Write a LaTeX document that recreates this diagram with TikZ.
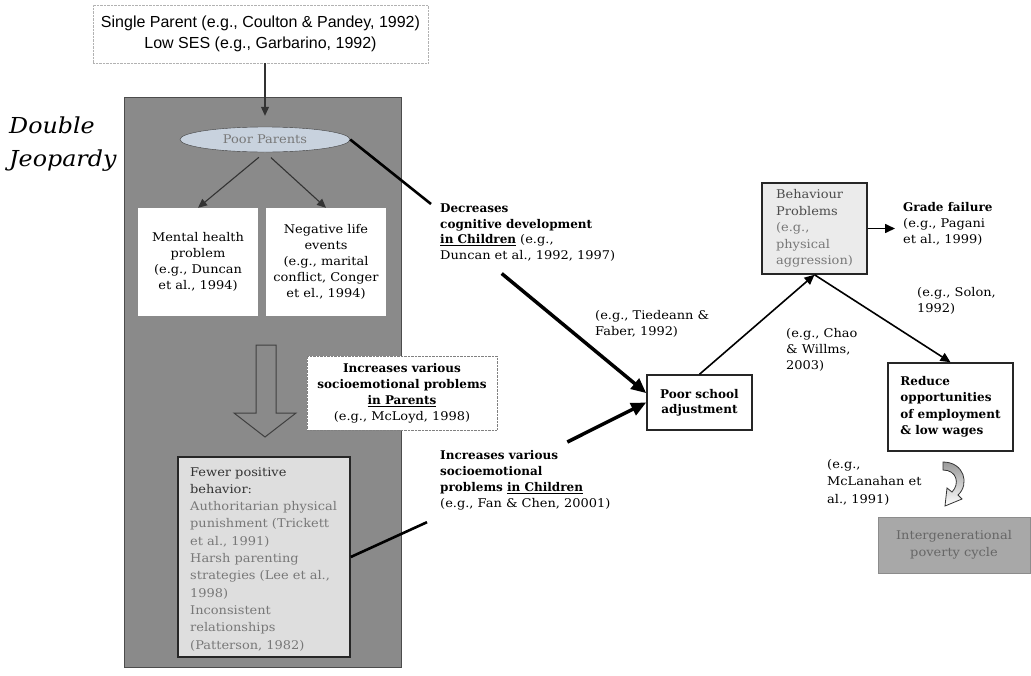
\documentclass[tikz,border=0pt]{standalone}
\usepackage{fontspec}
\setmainfont{DejaVu Serif}[FakeStretch=1.08, BoldFeatures={FakeStretch=1.0}]
\newfontfamily\topfont{Liberation Sans}
\usepackage{tikz}
\usetikzlibrary{arrows.meta}
\usetikzlibrary{shapes.geometric}
\definecolor{panelgray}{RGB}{138,138,138}
\definecolor{ellipsefill}{RGB}{200,210,222}
\definecolor{lightbox}{RGB}{222,222,222}
\definecolor{softtext}{RGB}{120,120,120}
\definecolor{cyclegray}{RGB}{168,168,168}
\tikzstyle{txt}=[font=\fontsize{12}{16}\selectfont, align=left, inner sep=0pt, anchor=north west]
\tikzstyle{whitebox}=[fill=white, minimum width=120, minimum height=108, align=center,
    font=\fontsize{12}{16}\selectfont]
\tikzstyle{heavybox}=[draw=black!85, line width=1.5pt, align=left,
    font=\fontsize{12}{16}\selectfont]
\tikzstyle{thinarrow}=[-{Triangle[length=9pt, width=8pt]}, line width=1.1pt, black!80]
\tikzstyle{midarrow}=[-{Triangle[length=10pt, width=9pt]}, line width=1.6pt]
\tikzstyle{bigarrow}=[-{Triangle[length=15pt, width=13pt]}, line width=3.5pt]
\tikzstyle{heavyline}=[line width=2.6pt]

\begin{document}
\begin{tikzpicture}[x=1pt, y=-1pt]
\useasboundingbox (0,0) rectangle (1031,675);
\node[draw=gray!60, densely dotted, minimum width=335, minimum height=58, align=center,
  font=\topfont\fontsize{16}{21}\selectfont] (risk) at (260.5,34)
  {Single Parent (e.g., Coulton \& Pandey, 1992)\\Low SES (e.g., Garbarino, 1992)};
\node[fill=panelgray, draw=black!70, minimum width=277, minimum height=570] (panel) at (262.5,382) {};
\node[txt, font=\itshape\fontsize{22}{33}\selectfont] (title) at (9,117) {Double\\Jeopardy};
\node[ellipse, fill=ellipsefill, draw=black!75, minimum width=170, minimum height=25, inner sep=0pt,
  text=softtext, font=\fontsize{12}{14}\selectfont] (poor) at (265,139.5) {Poor Parents};
\draw[thinarrow, shorten >=11pt] (risk.south -| poor.north) -- (poor.north);
\node[whitebox] (mental) at (198,262) {Mental health\\problem\\(e.g., Duncan\\et al., 1994)};
\node[whitebox] (negative) at (326,262) {Negative life\\events\\(e.g., marital\\conflict, Conger\\et el., 1994)};
\draw[thinarrow, shorten <=8pt] (poor.south) -- (mental.north);
\draw[thinarrow, shorten <=8pt] (poor.south) -- (negative.north);
% hollow block arrow
\draw[draw=black!75, fill=panelgray, line width=1pt] (256,345) -- (276,345) -- (276,413) -- (296,413)
  -- (265,437) -- (234,413) -- (256,413) -- cycle;
\node[fill=white, draw=gray, densely dotted, minimum width=190, minimum height=74, align=center,
  font=\fontsize{12}{16}\selectfont] (incpar) at (402,393)
  {\textbf{Increases various}\\\textbf{socioemotional problems}\\\textbf{\underline{in Parents}}\\(e.g., McLoyd, 1998)};
\node[heavybox, fill=lightbox, minimum width=172, minimum height=200] (fewer) at (264,557) {};
\node[txt, text=softtext, font=\fontsize{12}{17.3}\selectfont] (fewertxt) at (190,467)
  {\textcolor{black!80}{Fewer positive}\\\textcolor{black!80}{behavior:}\\Authoritarian physical\\punishment (Trickett\\et al., 1991)\\Harsh parenting\\strategies (Lee et al.,\\1998)\\Inconsistent\\relationships\\(Patterson, 1982)};
% text labels
\node[txt, font=\fontsize{12}{15.5}\selectfont] (dec) at (440,204) {\textbf{Decreases}\\\textbf{cognitive development}\\\textbf{\underline{in Children}} (e.g.,\\Duncan et al., 1992, 1997)};
\node[txt] (incchild) at (440,450) {\textbf{Increases various}\\\textbf{socioemotional}\\\textbf{problems \underline{in Children}}\\(e.g., Fan \& Chen, 20001)};
\node[txt] (tied) at (595,310) {(e.g., Tiedeann \&\\Faber, 1992)};
\node[txt] (chao) at (786,328) {(e.g., Chao\\\& Willms,\\2003)};
\node[txt] (solon) at (917,287) {(e.g., Solon,\\1992)};
\node[txt] (grade) at (903,202) {\textbf{Grade failure}\\(e.g., Pagani\\et al., 1999)};
\node[txt, font=\fontsize{12}{17.5}\selectfont] (mclan) at (827,459) {(e.g.,\\McLanahan et\\al., 1991)};
% outcome boxes
\node[heavybox, fill=white, align=center, minimum width=105, minimum height=55,
  font=\bfseries\fontsize{12}{15}\selectfont] (school) at (699.5,402.5) {Poor school\\adjustment};
\node[heavybox, fill=lightbox!60, minimum width=105, minimum height=91, text=softtext,
  font=\fontsize{12}{16.5}\selectfont] (behav) at (814.5,228.5)
  {\textcolor{black!70}{Behaviour}\\\textcolor{black!70}{Problems}\\(e.g.,\\physical\\aggression)};
\node[heavybox, fill=white, minimum width=125, minimum height=88,
  font=\bfseries\fontsize{12}{16.5}\selectfont] (reduce) at (950.5,407)
  {Reduce\\opportunities\\of employment\\\& low wages};
\node[fill=cyclegray, draw=black!45, minimum width=152, minimum height=56, align=center,
  text=black!60, font=\fontsize{12}{17}\selectfont] (cycle) at (954,545)
  {Intergenerational\\poverty cycle};
% connectors
\draw[heavyline] (poor.east) -- ([xshift=-9pt]dec.north west);
\draw[bigarrow] ([xshift=-26pt,yshift=-12pt]dec.south) -- (school.170);
\draw[heavyline] (fewer.east) -- ([xshift=-13pt,yshift=-12pt]incchild.south west);
\draw[bigarrow] ([xshift=42pt,yshift=8pt]incchild.north) -- (school.west);
\draw[midarrow] (school.north) -- (behav.south);
\draw[midarrow, shorten >=8pt] (behav.east) -- (behav.east -| grade.west);
\draw[midarrow] (behav.south) -- (reduce.north);
% curved arrow
\draw[black!80, line width=0.8pt, top color=gray!80, bottom color=white]
  (943,462) .. controls (964,462) and (970,484) .. (958,495) -- (962,499) -- (945,506)
  -- (947,488) -- (952,492) .. controls (960,484) and (957,470) .. (943,470) -- cycle;
\end{tikzpicture}
\end{document}
